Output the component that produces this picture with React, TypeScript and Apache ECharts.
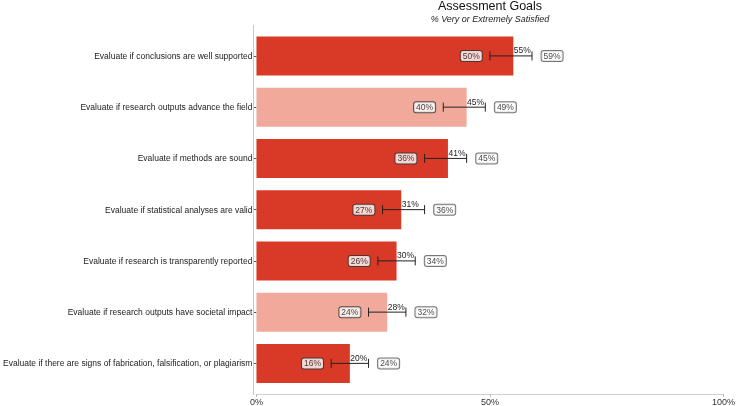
import React, { useEffect, useRef } from "react";
import * as echarts from "echarts";

const categories = [
  "Evaluate if conclusions are well supported",
  "Evaluate if research outputs advance the field",
  "Evaluate if methods are sound",
  "Evaluate if statistical analyses are valid",
  "Evaluate if research is transparently reported",
  "Evaluate if research outputs have societal impact",
  "Evaluate if there are signs of fabrication, falsification, or plagiarism",
];
const values = [55, 45, 41, 31, 30, 28, 20];
const lows = [50, 40, 36, 27, 26, 24, 16];
const highs = [59, 49, 45, 36, 34, 32, 24];
const highlighted = [false, true, false, false, false, true, false];
const xTicks = [0, 50, 100];

const DARK = "#d93a27";
const LIGHT = "#f0a99b";
const FONT = "Liberation Sans, Arial, sans-serif";

export default function App() {
  const ref = useRef<HTMLDivElement>(null);
  useEffect(() => {
    document.body.style.margin = "0";
    const chart = echarts.init(ref.current!, null, { renderer: "svg" });
    const gridLeft = 253;
    const gridTop = 30.3;
    const gridHeight = 359.8;
    const boxLabel = (border: string) => ({
      show: true,
      position: "inside",
      formatter: (p: any) => p.value[2] + "%",
      fontSize: 8.5,
      color: "#111",
      backgroundColor: "#fff",
      borderColor: border,
      borderWidth: 1,
      borderRadius: 2,
      padding: [1, 2, 0, 2],
      fontFamily: FONT,
    });
    const option: any = {
      animation: false,
      textStyle: { fontFamily: FONT },
      grid: { left: gridLeft, right: 11, top: gridTop, height: gridHeight, containLabel: false },
      xAxis: {
        type: "value",
        min: xTicks[0],
        max: xTicks[xTicks.length - 1],
        interval: 50,
        offset: 5,
        axisLine: { show: true, lineStyle: { color: "#d0d0d0", width: 1 } },
        axisTick: { show: true, length: 3, lineStyle: { color: "#bbb" } },
        splitLine: { show: false },
        axisLabel: { formatter: "{value}%", fontSize: 9, color: "#333", margin: 3, fontFamily: FONT },
      },
      yAxis: {
        type: "category",
        inverse: true,
        data: categories,
        axisLine: { show: false },
        axisTick: { show: true, alignWithLabel: true, length: 3, lineStyle: { color: "#555" } },
        axisLabel: { fontSize: 8.5, color: "#222", margin: 4, fontFamily: FONT },
      },
      graphic: [
        {
          type: "line",
          shape: { x1: gridLeft + 0.5, y1: 25, x2: gridLeft + 0.5, y2: 395 },
          style: { stroke: "#c8c8c8", lineWidth: 1 },
          z: 10,
        },
        {
          type: "text",
          x: 490,
          y: 6,
          style: { text: "Assessment Goals", fontSize: 12.5, fill: "#111", textAlign: "center", textVerticalAlign: "middle", fontFamily: FONT },
        },
        {
          type: "text",
          x: 490,
          y: 18.5,
          style: { text: "% Very or Extremely Satisfied", fontSize: 9, fontStyle: "italic", fill: "#222", textAlign: "center", textVerticalAlign: "middle", fontFamily: FONT },
        },
      ],
      series: [
        {
          type: "bar",
          barWidth: 39,
          data: values.map((v, i) => ({ value: v, itemStyle: { color: highlighted[i] ? LIGHT : DARK } })),
          z: 1,
        },
        {
          type: "custom",
          z: 5,
          encode: { x: [0, 1, 3], y: 2 },
          data: categories.map((_, i) => [lows[i], highs[i], i, values[i]]),
          renderItem: (params: any, api: any) => {
            const idx = api.value(2);
            const lo = api.coord([api.value(0), idx]);
            const hi = api.coord([api.value(1), idx]);
            const mid = api.coord([api.value(3), idx]);
            const h = 9;
            const st = { stroke: "#222", lineWidth: 1 };
            return {
              type: "group",
              children: [
                { type: "line", shape: { x1: lo[0], y1: lo[1], x2: hi[0], y2: hi[1] }, style: st },
                { type: "line", shape: { x1: lo[0], y1: lo[1] - h / 2, x2: lo[0], y2: lo[1] + h / 2 }, style: st },
                { type: "line", shape: { x1: hi[0], y1: hi[1] - h / 2, x2: hi[0], y2: hi[1] + h / 2 }, style: st },
                {
                  type: "text",
                  x: mid[0] + 0.5,
                  y: mid[1] - 1,
                  style: { text: api.value(3) + "%", fontSize: 8.5, fill: "#222", textAlign: "left", textVerticalAlign: "bottom", fontFamily: FONT },
                },
              ],
            };
          },
        },
        {
          type: "scatter",
          z: 6,
          symbol: "circle",
          symbolSize: 1,
          itemStyle: { color: "rgba(0,0,0,0)" },
          data: lows.map((v, i) => [v - 4, i, v]),
          label: boxLabel("#333"),
        },
        {
          type: "scatter",
          z: 6,
          symbol: "circle",
          symbolSize: 1,
          itemStyle: { color: "rgba(0,0,0,0)" },
          data: highs.map((v, i) => [v + 4.3, i, v]),
          label: boxLabel("#555"),
        },
      ],
    };
    chart.setOption(option);
    return () => chart.dispose();
  }, []);
  return <div ref={ref} style={{ position: "fixed", left: 0, top: 0, width: 738, height: 406 }} />;
}
